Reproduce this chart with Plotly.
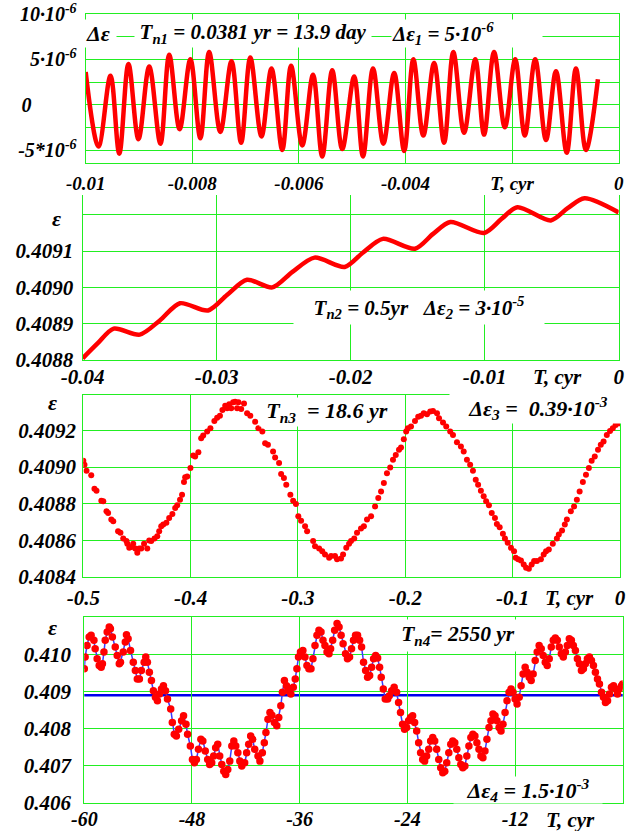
import plotly.graph_objects as go

# ---------------- data ----------------
# Panel 1: nutation term 13.9 day (extremes), T in cyr
t1 = [-0.01, -0.00976, -0.009535, -0.00937, -0.009198, -0.00901, -0.008808, -0.008598,
      -0.008433, -0.008238, -0.008036, -0.007849, -0.007684, -0.007474, -0.007264,
      -0.007084, -0.006912, -0.006702, -0.006514, -0.006312, -0.006147, -0.005937,
      -0.005735, -0.005562, -0.005375, -0.005187, -0.004963, -0.004798, -0.00461,
      -0.004415, -0.004213, -0.004025, -0.003853, -0.003666, -0.003463, -0.003276,
      -0.003103, -0.002901, -0.002691, -0.002526, -0.002339, -0.002136, -0.001942,
      -0.001762, -0.001567, -0.001364, -0.001177, -0.000975, -0.000802, -0.000615, -0.00039]
d1 = [3.6e-6, -4.6e-6, 3.2e-6, -5.4e-6, 4.5e-6, -3.8e-6, 4.2e-6, -4.3e-6, 5.5e-6, -2.7e-6,
      5.0e-6, -3.7e-6, 5.8e-6, -3.0e-6, 4.8e-6, -4.2e-6, 5.2e-6, -3.5e-6, 4.0e-6, -5.0e-6,
      4.3e-6, -4.5e-6, 3.3e-6, -5.7e-6, 3.8e-6, -4.9e-6, 3.1e-6, -5.7e-6, 4.0e-6, -4.3e-6,
      3.5e-6, -5.1e-6, 5.0e-6, -3.4e-6, 4.6e-6, -4.2e-6, 5.8e-6, -3.1e-6, 5.0e-6, -3.3e-6,
      5.8e-6, -2.5e-6, 5.0e-6, -3.4e-6, 5.0e-6, -3.9e-6, 3.7e-6, -5.3e-6, 4.0e-6, -5.0e-6, 2.8e-6]

# Panel 2: 0.5 yr term
t2 = [-0.04, -0.038891, -0.037691, -0.035742, -0.034243, -0.032744, -0.030645, -0.029235,
      -0.027736, -0.025847, -0.024348, -0.022699, -0.02045, -0.0191, -0.017601, -0.015202,
      -0.013853, -0.012564, -0.010045, -0.008756, -0.007556, -0.005067, -0.003808, -0.002549, 0.0]
e2 = [0.4088045, 0.4088455, 0.4088864, 0.40887, 0.408909, 0.4089564, 0.4089364, 0.408979,
      0.409021, 0.4090, 0.4090427, 0.409082, 0.4090564, 0.4090955, 0.4091336, 0.4091064,
      0.4091473, 0.40918, 0.40915, 0.4091882, 0.4092209, 0.4091845, 0.4092182, 0.4092455, 0.4092064]

# Panel 3: 18.6 yr term (dots)
t3 = [-0.5000, -0.4989, -0.4970, -0.4926, -0.4896, -0.4877, -0.4832, -0.4814, -0.4784, -0.4769,
      -0.4739, -0.4721, -0.4676, -0.4654, -0.4628, -0.4598, -0.4590, -0.4572, -0.4553, -0.4535,
      -0.4516, -0.4497, -0.4479, -0.4460, -0.4434, -0.4404, -0.4386, -0.4367, -0.4337, -0.4311,
      -0.4293, -0.4274, -0.4255, -0.4226, -0.4200, -0.4170, -0.4144, -0.4125, -0.4099, -0.4080,
      -0.4062, -0.4051, -0.4032, -0.4002, -0.3976, -0.3958, -0.3928, -0.3902, -0.3883, -0.3846,
      -0.3816, -0.3779, -0.3753, -0.3727, -0.3704, -0.3678, -0.3660, -0.3641, -0.3622, -0.3604,
      -0.3585, -0.3567, -0.3555, -0.3529, -0.3503, -0.3474, -0.3444, -0.3399, -0.3369, -0.3332,
      -0.3306, -0.3280, -0.3232, -0.3213, -0.3176, -0.3157, -0.3131, -0.3109, -0.3071, -0.3045,
      -0.3019, -0.2997, -0.2971, -0.2934, -0.2915, -0.2859, -0.2841, -0.2803, -0.2774, -0.2748,
      -0.2710, -0.2692, -0.2655, -0.2636, -0.2599, -0.2580, -0.2550, -0.2524, -0.2506, -0.2476,
      -0.2450, -0.2413, -0.2386, -0.2357, -0.2319, -0.2282, -0.2252, -0.2226, -0.2200, -0.2171,
      -0.2141, -0.2115, -0.2089, -0.2059, -0.2040, -0.2014, -0.1992, -0.1977, -0.1947, -0.1910,
      -0.1880, -0.1854, -0.1828, -0.1798, -0.1768, -0.1742, -0.1705, -0.1686, -0.1649, -0.1619,
      -0.1582, -0.1556, -0.1519, -0.1482, -0.1456, -0.1426, -0.1396, -0.1370, -0.1344, -0.1322,
      -0.1296, -0.1270, -0.1247, -0.1221, -0.1195, -0.1165, -0.1147, -0.1121, -0.1091, -0.1072,
      -0.1046, -0.1016, -0.0987, -0.0972, -0.0949, -0.0923, -0.0897, -0.0875, -0.0849, -0.0823,
      -0.0800, -0.0774, -0.0737, -0.0711, -0.0689, -0.0663, -0.0626, -0.0588, -0.0570, -0.0540,
      -0.0514, -0.0495, -0.0458, -0.0428, -0.0402, -0.0376, -0.0346, -0.0317, -0.0290, -0.0264,
      -0.0235, -0.0205, -0.0179, -0.0153, -0.0123, -0.0093, -0.0067, -0.0041, -0.0011]
e3 = [0.409035, 0.409013, 0.408980, 0.408955, 0.408882, 0.408871, 0.408816, 0.408813, 0.408758, 0.408749,
      0.408713, 0.408704, 0.408649, 0.408640, 0.408609, 0.408595, 0.408580, 0.408558, 0.408562, 0.408580,
      0.408555, 0.408531, 0.408555, 0.408555, 0.408580, 0.408555, 0.408598, 0.408595, 0.408609, 0.408622,
      0.408649, 0.408676, 0.408686, 0.408695, 0.408722, 0.408744, 0.408776, 0.408791, 0.408822, 0.408849,
      0.408918, 0.408944, 0.408949, 0.408995, 0.409064, 0.409058, 0.409082, 0.409158, 0.409173, 0.409195,
      0.409213, 0.409253, 0.409271, 0.409282, 0.409313, 0.409336, 0.409322, 0.409344, 0.409322, 0.409355,
      0.409358, 0.409322, 0.409355, 0.409318, 0.409349, 0.409295, 0.409282, 0.409249, 0.409213, 0.409195,
      0.409131, 0.409122, 0.409085, 0.409053, 0.409022, 0.408962, 0.408940, 0.408904, 0.408849, 0.408816,
      0.408798, 0.408731, 0.408707, 0.408676, 0.408649, 0.408595, 0.408567, 0.408555, 0.408540, 0.408522,
      0.408504, 0.408513, 0.408513, 0.408495, 0.408500, 0.408522, 0.408558, 0.408580, 0.408595, 0.408609,
      0.408640, 0.408664, 0.408676, 0.408713, 0.408731, 0.408785, 0.408831, 0.408867, 0.408913, 0.408967,
      0.408998, 0.409040, 0.409067, 0.409095, 0.409107, 0.409153, 0.409195, 0.409213, 0.409222, 0.409253,
      0.409276, 0.409282, 0.409295, 0.409289, 0.409304, 0.409307, 0.409295, 0.409267, 0.409245, 0.409222,
      0.409195, 0.409176, 0.409136, 0.409113, 0.409085, 0.409040, 0.409013, 0.408980, 0.408931, 0.408904,
      0.408871, 0.408840, 0.408813, 0.408791, 0.408749, 0.408722, 0.408689, 0.408671, 0.408635, 0.408609,
      0.408586, 0.408558, 0.408540, 0.408504, 0.408495, 0.408489, 0.408467, 0.408449, 0.408444, 0.408467,
      0.408486, 0.408486, 0.408495, 0.408522, 0.408540, 0.408549, 0.408580, 0.408609, 0.408631, 0.408653,
      0.408686, 0.408713, 0.408758, 0.408785, 0.408822, 0.408867, 0.408918, 0.408958, 0.408995, 0.409035,
      0.409058, 0.409095, 0.409122, 0.409140, 0.409176, 0.409198, 0.409213, 0.409231, 0.409240]

# Panel 4: 2550 yr term (dots joined by a line)
t4 = [-60.00, -59.91, -59.69, -59.46, -59.24, -58.93, -58.79, -58.57, -58.34, -58.12,
      -57.98, -57.81, -57.67, -57.45, -57.22, -57.09, -56.87, -56.55, -56.33, -56.10,
      -55.97, -55.66, -55.43, -55.30, -55.12, -54.85, -54.54, -54.31, -54.09, -53.86,
      -53.64, -53.33, -53.15, -52.97, -52.75, -52.52, -52.30, -52.07, -51.85, -51.63,
      -51.40, -51.18, -50.95, -50.73, -50.37, -50.19, -49.97, -49.74, -49.48, -49.16,
      -48.94, -48.67, -48.49, -48.18, -47.95, -47.73, -47.51, -47.28, -47.01, -46.79,
      -46.52, -46.25, -46.03, -45.80, -45.58, -45.36, -45.13, -44.91, -44.68, -44.46,
      -44.24, -44.01, -43.79, -43.56, -43.34, -43.12, -42.89, -42.67, -42.45, -42.13,
      -41.91, -41.68, -41.46, -41.24, -41.01, -40.65, -40.43, -40.16, -39.94, -39.76,
      -39.53, -39.31, -39.09, -38.82, -38.55, -38.33, -38.10, -37.92, -37.70, -37.47,
      -37.25, -36.98, -36.71, -36.49, -36.31, -36.13, -35.91, -35.64, -35.41, -35.19,
      -34.97, -34.74, -34.52, -34.29, -34.07, -33.85, -33.62, -33.40, -33.18, -32.95,
      -32.73, -32.55, -32.32, -32.10, -31.83, -31.61, -31.38, -31.16, -30.89, -30.67,
      -30.44, -30.22, -30.00, -29.77, -29.55, -29.32, -29.10, -28.88, -28.65, -28.43,
      -28.20, -27.98, -27.76, -27.53, -27.31, -27.09, -26.91, -26.68, -26.46, -26.19,
      -26.01, -25.74, -25.47, -25.20, -24.98, -24.76, -24.53, -24.31, -24.08, -23.86,
      -23.64, -23.41, -23.19, -22.96, -22.74, -22.52, -22.29, -22.07, -21.85, -21.62,
      -21.40, -21.17, -20.95, -20.73, -20.50, -20.28, -20.05, -19.83, -19.61, -19.38,
      -19.16, -18.94, -18.71, -18.49, -18.26, -18.04, -17.82, -17.59, -17.37, -17.14,
      -16.92, -16.70, -16.47, -16.25, -16.02, -15.80, -15.58, -15.35, -15.13, -14.90,
      -14.68, -14.46, -14.23, -14.01, -13.78, -13.56, -13.34, -13.11, -12.89, -12.66,
      -12.44, -12.22, -11.99, -11.77, -11.54, -11.32, -11.10, -10.87, -10.65, -10.42,
      -10.20, -9.98, -9.75, -9.53, -9.31, -9.08, -8.86, -8.63, -8.41, -8.19,
      -7.96, -7.74, -7.51, -7.29, -7.07, -6.84, -6.62, -6.39, -6.17, -5.95,
      -5.72, -5.50, -5.27, -5.05, -4.83, -4.60, -4.38, -4.16, -3.93, -3.71,
      -3.48, -3.26, -3.04, -2.81, -2.59, -2.36, -2.14, -1.92, -1.69, -1.47,
      -1.25, -1.02, -0.80, -0.58, -0.36, -0.13, 0.00]
e4 = [0.409612, 0.409928, 0.410244, 0.410470, 0.410515, 0.410379, 0.410153, 0.409883, 0.409702, 0.409657,
      0.409747, 0.410063, 0.410379, 0.410605, 0.410740, 0.410695, 0.410470, 0.410199, 0.409973, 0.409747,
      0.409792, 0.410063, 0.410334, 0.410533, 0.410424, 0.410108, 0.409792, 0.409567, 0.409341, 0.409341,
      0.409567, 0.409792, 0.409928, 0.409792, 0.409521, 0.409296, 0.409025, 0.408844, 0.408754, 0.408935,
      0.409070, 0.409160, 0.409025, 0.408799, 0.408528, 0.408167, 0.407851, 0.407806, 0.407986, 0.408212,
      0.408348, 0.408122, 0.407851, 0.407535, 0.407174, 0.407083, 0.407174, 0.407445, 0.407715, 0.407670,
      0.407399, 0.407174, 0.407038, 0.407083, 0.407264, 0.407490, 0.407580, 0.407264, 0.407038, 0.406858,
      0.406767, 0.406903, 0.407128, 0.407535, 0.407670, 0.407535, 0.407354, 0.407128, 0.406993, 0.407083,
      0.407354, 0.407580, 0.407806, 0.407715, 0.407445, 0.407264, 0.407128, 0.407354, 0.407625, 0.407896,
      0.408257, 0.408438, 0.408366, 0.408167, 0.408077, 0.408302, 0.408618, 0.408980, 0.409296, 0.409160,
      0.409025, 0.408935, 0.409115, 0.409341, 0.409612, 0.409928, 0.410063, 0.410108, 0.409928, 0.409702,
      0.409612, 0.409612, 0.409883, 0.410244, 0.410515, 0.410650, 0.410605, 0.410379, 0.410244, 0.410063,
      0.410018, 0.410153, 0.410379, 0.410650, 0.410831, 0.410740, 0.410515, 0.410289, 0.410018, 0.409883,
      0.409928, 0.410153, 0.410379, 0.410515, 0.410515, 0.410379, 0.410199, 0.409792, 0.409567, 0.409386,
      0.409431, 0.409657, 0.409883, 0.409973, 0.409901, 0.409657, 0.409386, 0.409070, 0.408799, 0.408799,
      0.408889, 0.409025, 0.409115, 0.408980, 0.408709, 0.408438, 0.408122, 0.407986, 0.408031, 0.408212,
      0.408302, 0.408348, 0.408167, 0.407941, 0.407625, 0.407354, 0.407174, 0.407128, 0.407264, 0.407445,
      0.407670, 0.407761, 0.407670, 0.407445, 0.407174, 0.406948, 0.406812, 0.406858, 0.407083, 0.407354,
      0.407580, 0.407670, 0.407625, 0.407445, 0.407219, 0.407038, 0.406948, 0.406993, 0.407264, 0.407535,
      0.407761, 0.407851, 0.407806, 0.407625, 0.407445, 0.407264, 0.407219, 0.407399, 0.407715, 0.408031,
      0.408212, 0.408393, 0.408348, 0.408212, 0.408031, 0.407941, 0.408122, 0.408438, 0.408754, 0.408980,
      0.409070, 0.408980, 0.408799, 0.408664, 0.408844, 0.409160, 0.409476, 0.409657, 0.409521, 0.409386,
      0.409296, 0.409476, 0.409837, 0.410063, 0.410244, 0.410153, 0.409973, 0.409792, 0.409702, 0.409883,
      0.410199, 0.410379, 0.410442, 0.410379, 0.410199, 0.410018, 0.409928, 0.410063, 0.410244, 0.410424,
      0.410379, 0.410244, 0.410108, 0.409883, 0.409747, 0.409567, 0.409612, 0.409747, 0.409883, 0.409928,
      0.409837, 0.409702, 0.409521, 0.409341, 0.409205, 0.408980, 0.408844, 0.408709, 0.408754, 0.408935,
      0.409115, 0.409160, 0.409070, 0.408935, 0.409070, 0.409160, 0.409205]
mean4 = 0.4089

# tick values / labels
x1_ticks = [-0.01, -0.008, -0.006, -0.004, -0.002, 0.0]
x1_text = ["-0.01", "-0.008", "-0.006", "-0.004", "T, cyr", "0"]
y1_ticks = [-5e-6, -2.5e-6, 0.0, 2.5e-6, 5e-6, 7.5e-6, 10e-6]
y1_text = ["-5*10<sup>-6</sup>", "", "0" + "\u00a0" * 9, "", "5\u00b710<sup>-6</sup>", "", "10\u00b710<sup>-6</sup>"]
x2_ticks = [-0.04, -0.03, -0.02, -0.01, 0.0]
x2_text = ["-0.04", "-0.03", "-0.02", "-0.01", "0"]
y2_ticks = [0.4088, 0.4089, 0.4090, 0.4091, 0.4092]
y2_text = ["0.4088", "0.4089", "0.4090", "0.4091", ""]
x3_ticks = [-0.5, -0.4, -0.3, -0.2, -0.1, 0.0]
x3_text = ["-0.5", "-0.4", "-0.3", "-0.2", "-0.1", "0"]
y3_ticks = [0.4084, 0.4086, 0.4088, 0.4090, 0.4092]
y3_text = ["0.4084", "0.4086", "0.4088", "0.4090", "0.4092"]
x4_ticks = [-60, -48, -36, -24, -12, 0]
x4_text = ["-60", "-48", "-36", "-24", "-12", "0"]
y4_ticks = [0.406, 0.407, 0.408, 0.409, 0.410]
y4_text = ["0.406", "0.407", "0.408", "0.409", "0.410"]

# ---------------- styling ----------------
FW, FH = 626, 831
def px(x):
    return x / FW
def py(y):
    return 1 - y / FH

GRID = "#22ee22"
RED = "#ff0000"
FONT = "Liberation Serif"

def tfont(size):
    return dict(family=FONT, size=size, color="black", weight="bold", style="italic")

def axis(domain, rng, tv, tt, anchor, size, standoff, mirror=True):
    return dict(domain=domain, range=rng, tickvals=tv, ticktext=tt, anchor=anchor,
                showgrid=True, gridcolor=GRID, gridwidth=1.3, showline=True,
                linecolor=GRID, linewidth=1.3, mirror=mirror, ticks="", zeroline=False,
                automargin=False, tickfont=tfont(size), ticklabelstandoff=standoff,
                fixedrange=True)

fig = go.Figure()
fig.add_trace(go.Scatter(x=t1, y=d1, mode="lines", xaxis="x", yaxis="y",
                         line=dict(color=RED, width=4.5, shape="spline", smoothing=1.0)))
fig.add_trace(go.Scatter(x=t2, y=e2, mode="lines", xaxis="x2", yaxis="y2",
                         line=dict(color=RED, width=4.5, shape="spline", smoothing=0.8)))
fig.add_trace(go.Scatter(x=t3, y=e3, mode="markers", xaxis="x3", yaxis="y3",
                         marker=dict(color=RED, size=6)))
fig.add_trace(go.Scatter(x=t4, y=e4, mode="lines+markers", xaxis="x4", yaxis="y4",
                         line=dict(color="#3a3aff", width=1.5),
                         marker=dict(color=RED, size=7.5)))

fig.update_layout(
    width=FW, height=FH, margin=dict(l=0, r=0, t=0, b=0),
    paper_bgcolor="white", plot_bgcolor="white", showlegend=False,
    xaxis=axis([px(85.7), px(618.7)], [-0.01, 0], x1_ticks, x1_text, "y", 19, 3),
    yaxis=axis([py(163), py(14)], [-6.43e-6, 10e-6], y1_ticks, y1_text, "x", 20, 4),
    xaxis2=axis([px(82.7), px(618.7)], [-0.04, 0], x2_ticks, x2_text, "y2", 21, -2, mirror=False),
    yaxis2=axis([py(360), py(195)], [0.4088, 0.4092545], y2_ticks, y2_text, "x2", 21, 4),
    xaxis3=axis([px(83.3), px(620)], [-0.5, 0], x3_ticks, x3_text, "y3", 21, 2),
    yaxis3=axis([py(576.7), py(395)], [0.4084, 0.409395], y3_ticks, y3_text, "x3", 21, 2),
    xaxis4=axis([px(84.3), px(622.7)], [-60, 0], x4_ticks, x4_text, "y4", 20, -2),
    yaxis4=axis([py(803), py(617.3)], [0.406, 0.411], y4_ticks, y4_text, "x4", 21, 8),
)

fig.add_shape(type="line", xref="x4 domain", yref="y4", x0=0, x1=1, y0=mean4, y1=mean4,
              line=dict(color="#0000ee", width=2.5), layer="below")

def note(text, x, y, size=19, bg=None, w=None, h=None, align="center"):
    a = dict(text=text, x=px(x), y=py(y), xref="paper", yref="paper",
             xanchor="center", yanchor="middle", showarrow=False, font=tfont(size),
             align=align, borderpad=0)
    if bg:
        a["bgcolor"] = bg
    if w:
        a["width"] = w
    if h:
        a["height"] = h
    fig.add_annotation(**a)

# panel 1
note("\u0394\u03b5", 98, 33, 22, "white", 36, 27)
note("T<sub>n1</sub> = 0.0381 yr = 13.9 day", 253, 33, 21, "white", 236, 27)
note("\u0394\u03b5<sub>1</sub> = 5\u00b710<sup>-6</sup>", 467, 33, 21, "white", 150, 27, "left")
# panel 2
note("\u03b5", 56, 218, 22)
note("T<sub>n2</sub> = 0.5yr \u00a0 \u0394\u03b5<sub>2</sub> = 3\u00b710<sup>-5</sup>", 419, 307, 21, "white", 250, 33)
note("T, cyr", 557, 377, 21)
# panel 3
note("\u03b5", 52, 402, 22)
note("T<sub>n3</sub> \u00a0= 18.6 yr", 327, 412, 22, "white", 134, 28)
note("\u0394\u03b5<sub>3</sub> = \u00a00.39\u00b710<sup>-3</sup>", 538, 408, 22, "white", 176, 30)
note("T, cyr", 569, 598, 21)
# panel 4
note("\u03b5", 52, 627, 22)
note("T<sub>n4</sub>= 2550 yr", 458, 635, 21.5, "white", 126, 31)
note("\u0394\u03b5<sub>4</sub> = 1.5\u00b710<sup>-3</sup>", 528, 790, 22, "white", 148, 26)
note("T, cyr", 570, 820, 21)

fig.write_html("out.html")
